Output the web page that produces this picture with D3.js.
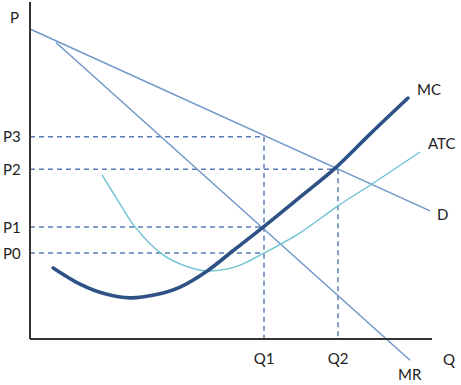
<!DOCTYPE html>
<html>
<head>
	<meta charset="utf-8">
	<title>Monopoly MC ATC</title>
	<script src="https://d3js.org/d3.v7.min.js"></script>
	<style>
		body { margin: 0; background: #fff; }
		text { font-family: Lato, "Open Sans", sans-serif; font-size: 15px; fill: #222; }
	</style>
</head>
<body>
<div id="chart"></div>
<script type="text/javascript">

	// chart values (quantity 0-100, price 0-100)
	var priceLabels = ["P0", "P1", "P2", "P3"];
	var priceValues = [25.5, 33.2, 50.4, 60];
	var priceAtQ = [58.5, 58.5, 77, 58.5];   // where each dashed price line stops
	var qLabels = ["Q1", "Q2"];
	var qValues = [58.5, 77];
	var qTops = [60, 50.4];

	var demand = [[0, 92], [100, 38]];
	var mr = [[6.5, 88], [95, -6.3]];
	var mc = [[5.8, 21.1], [12.5, 16.3], [18.8, 13.4], [25, 12.2], [31.3, 13.1], [37.5, 15.4],
		[44.3, 20.2], [51.3, 26.7], [58.3, 33.2], [67.5, 42.1], [76.3, 50.7], [85, 60.8], [94.5, 71.5]];
	var atc = [[18, 48.7], [22.5, 40.1], [26.3, 33.2], [33, 25.2], [38.8, 21.7], [44.3, 20.2],
		[51.3, 21.4], [58.5, 25.5], [67.5, 31.5], [77, 39.5], [85.5, 46], [97.5, 55.5]];

	var width = 461, height = 385;

	var svg = d3.select("#chart").append("svg")
		.attr("width", width)
		.attr("height", height);

	var x = d3.scaleLinear().domain([0, 100]).range([30, 430]);
	var y = d3.scaleLinear().domain([0, 100]).range([339, 2]);

	var line = d3.line().x(function(d){ return x(d[0]); }).y(function(d){ return y(d[1]); });
	var smooth = d3.line().curve(d3.curveCatmullRom.alpha(0.5))
		.x(function(d){ return x(d[0]); }).y(function(d){ return y(d[1]); });

	// dashed guides
	var guides = svg.append("g")
		.attr("stroke", "#5b7db4")
		.attr("stroke-width", 1.5)
		.attr("stroke-dasharray", "5,4");

	guides.selectAll("line.h")
		.data(priceValues)
		.enter()
		.append("line")
		.attr("class", "h")
		.attr("x1", x(0))
		.attr("x2", function(d, i){ return x(priceAtQ[i]); })
		.attr("y1", function(d){ return y(d); })
		.attr("y2", function(d){ return y(d); });

	guides.selectAll("line.v")
		.data(qValues)
		.enter()
		.append("line")
		.attr("class", "v")
		.attr("x1", function(d){ return x(d); })
		.attr("x2", function(d){ return x(d); })
		.attr("y1", function(d, i){ return y(qTops[i]); })
		.attr("y2", y(0));

	// demand and marginal revenue
	svg.append("path").attr("d", line(demand))
		.attr("fill", "none").attr("stroke", "#7197c9").attr("stroke-width", 1.5);
	svg.append("path").attr("d", line(mr))
		.attr("fill", "none").attr("stroke", "#7197c9").attr("stroke-width", 1.5);

	// ATC
	svg.append("path").attr("d", smooth(atc))
		.attr("fill", "none").attr("stroke", "#6cc3cf").attr("stroke-width", 1.4);

	// MC
	svg.append("path").attr("d", smooth(mc))
		.attr("fill", "none").attr("stroke", "#2e5286").attr("stroke-width", 3.6)
		.attr("stroke-linecap", "round");

	// axes
	svg.append("line")
		.attr("x1", x(0)).attr("x2", x(0))
		.attr("y1", y(100)).attr("y2", y(0))
		.attr("stroke", "#333").attr("stroke-width", 2);
	svg.append("line")
		.attr("x1", x(0)).attr("x2", x(100.5))
		.attr("y1", y(0)).attr("y2", y(0))
		.attr("stroke", "#333").attr("stroke-width", 2);

	// labels
	svg.append("text").attr("x", 10).attr("y", 23).text("P");
	svg.append("text").attr("x", 443).attr("y", 365).text("Q");

	svg.selectAll("text.p")
		.data(priceLabels)
		.enter()
		.append("text")
		.attr("class", "p")
		.attr("x", 3)
		.attr("y", function(d, i){ return y(priceValues[i]) + 5.5; })
		.text(function(d){ return d; });

	svg.selectAll("text.q")
		.data(qLabels)
		.enter()
		.append("text")
		.attr("class", "q")
		.attr("text-anchor", "middle")
		.attr("x", function(d, i){ return x(qValues[i]); })
		.attr("y", 364)
		.text(function(d){ return d; });

	svg.append("text").attr("x", x(mc[mc.length - 1][0]) + 9).attr("y", y(mc[mc.length - 1][1]) - 3).text("MC");
	svg.append("text").attr("x", x(atc[atc.length - 1][0]) + 8).attr("y", y(atc[atc.length - 1][1]) - 3).text("ATC");
	svg.append("text").attr("x", x(demand[1][0]) + 7).attr("y", y(demand[1][1]) + 9).text("D");
	svg.append("text").attr("x", x(mr[1][0]) - 12).attr("y", y(mr[1][1]) + 20).text("MR");

</script>
</body>
</html>
